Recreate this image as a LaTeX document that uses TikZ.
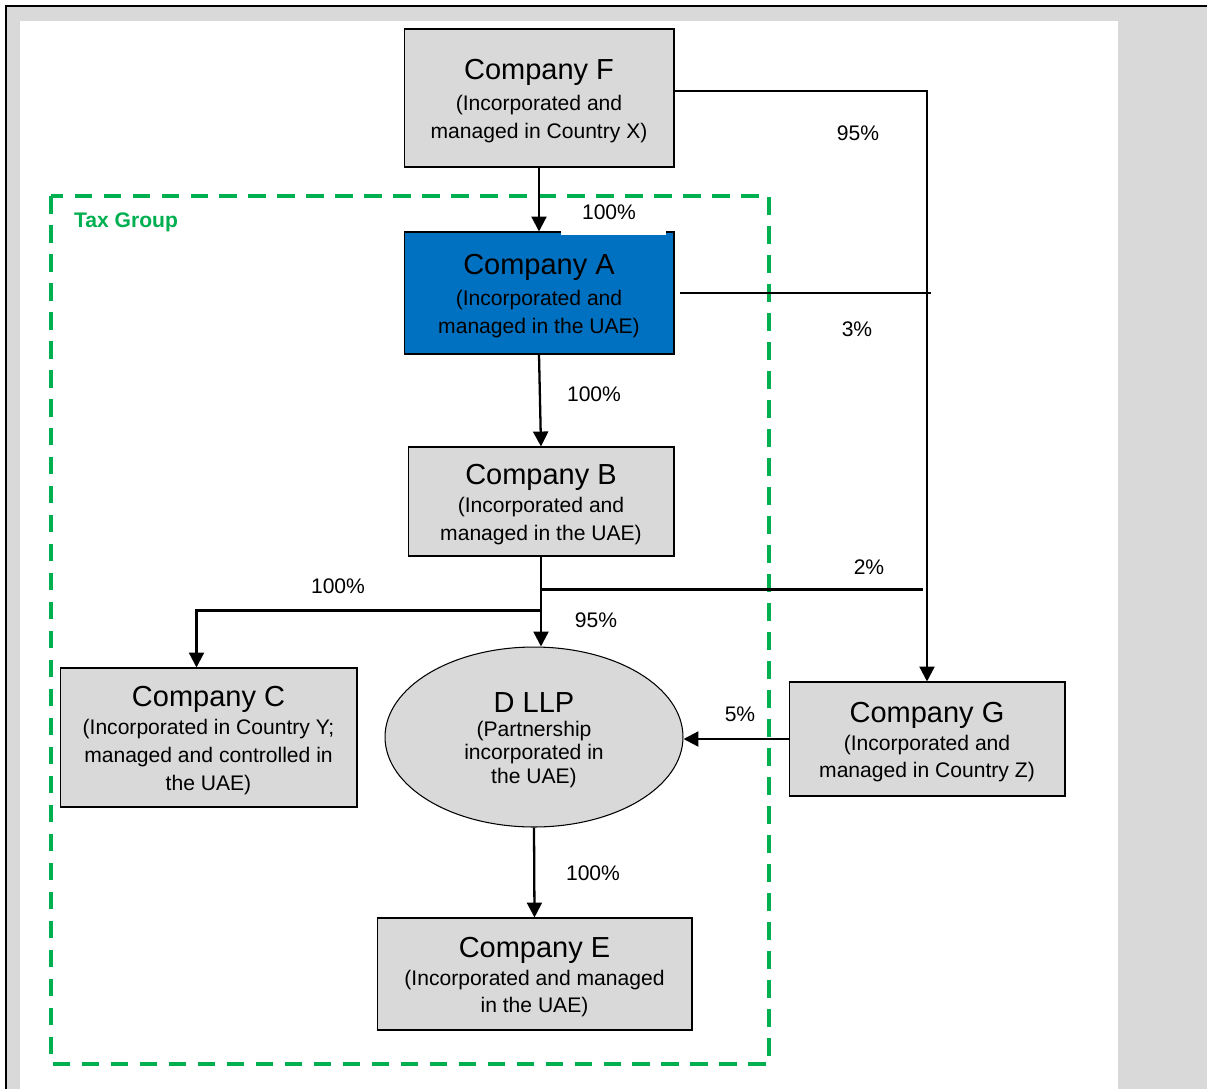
\documentclass[tikz,border=0pt]{standalone}
\usepackage{fontspec}
\setmainfont{Liberation Sans}
\usepackage{tikz}
\usetikzlibrary{
  arrows.meta,
  shapes.geometric,
  calc}

\definecolor{boxgray}{HTML}{D9D9D9}
\definecolor{uaeblue}{HTML}{0070C0}
\definecolor{taxgreen}{HTML}{00B050}

\tikzset{
  entity/.style={draw=black, line width=0.6pt, fill=boxgray, inner sep=0pt,
    align=center, font=\fontsize{12}{15.9}\selectfont},
  link/.style={line width=1.3pt},
  own/.style={link, -{Triangle[length=8.5pt,width=8.5pt]}},
  pct/.style={inner sep=0pt, font=\fontsize{12}{14}\selectfont}
}
\newcommand{\cotitle}[2][0pt]{{\fontsize{16.5}{18}\selectfont\rule{0pt}{15pt}#2}\\[#1]}

\begin{document}
\begin{tikzpicture}[x=0.02cm, y=-0.02cm]
\useasboundingbox (0,0) rectangle (1207,1089);

% page
\fill[boxgray] (6,6) rectangle (1207,1089);
\fill[white] (20,20.5) rectangle (1118,1089);
\draw[line width=1.7pt] (6,1089) -- (6,6) -- (1207,6);

% tax group
\draw[
  taxgreen,
  line width=2.1pt,
  dash pattern=on 10pt off 6.5pt]
(51,196) rectangle (769,1064)
;
\node[text=taxgreen, inner sep=0pt, font=\fontsize{12}{14}\selectfont\bfseries]
  (taxlabel) at (126,222.5) {Tax Group};

% companies
\node[entity, minimum width=5.4cm, minimum height=2.76cm] (F) at (539,98)
  {\cotitle[2pt]{Company F}(Incorporated and\\managed in Country X)};
\node[entity, fill=uaeblue, minimum width=5.4cm, minimum height=2.44cm] (A) at (539,293)
  {\cotitle[1.5pt]{Company A}(Incorporated and\\managed in the UAE)};
\node[entity, minimum width=5.32cm, minimum height=2.18cm] (B) at (541,501.5)
  {\cotitle{Company B}(Incorporated and\\managed in the UAE)};
\node[entity, minimum width=5.94cm, minimum height=2.78cm] (C) at (208.5,737.5)
  {\cotitle{Company C}(Incorporated in Country Y;\\managed and controlled in\\the UAE)};
\node[entity, ellipse, minimum width=5.96cm, minimum height=3.6cm,
  font=\fontsize{12}{13.6}\selectfont] (D) at (534,737)
  {\cotitle{D LLP}(Partnership\\incorporated in\\the UAE)};
\node[entity, minimum width=5.52cm, minimum height=2.28cm] (G) at (927,739)
  {\cotitle{Company G}(Incorporated and\\managed in Country Z)};
\node[entity, minimum width=6.3cm, minimum height=2.24cm] (E) at (534.5,974)
  {\cotitle{Company E}(Incorporated and managed\\in the UAE)};

% holdings
\draw[own] (F.south) -- (A.north);
\draw[own] ([yshift=0.14cm]F.east) -| (G.north);
\draw[link] ([xshift=0.1cm]A.east) -- ([xshift=0.08cm]A.east -| G.north);
\draw[own] (A.south) -- (B.north);
\draw[own] (B.south) -- (B.south |- D.north);
\coordinate (splitG) at ([yshift=-0.66cm]B.south);
\coordinate (splitC) at ([yshift=-1.08cm]B.south);
\draw[link] (splitG) -- ([xshift=-0.08cm]splitG -| G.north);
\draw[own] (splitC) -| ([xshift=-0.24cm]C.north);
\draw[own] (G.west) -- (D.east |- G.west);
\draw[own] (D.south) -- (E.north);

% shares
\fill[white] (561,199) rectangle (666,235);
\node[pct] (pFA) at (609,212) {100\%};
\node[pct] (pFG) at (858,133) {95\%};
\node[pct] (pAG) at (857,329) {3\%};
\node[pct] (pAB) at (594,394) {100\%};
\node[pct] (pBG) at (869,567) {2\%};
\node[pct] (pBC) at (338,586) {100\%};
\node[pct] (pBD) at (596,620) {95\%};
\node[pct] (pGD) at (740,714) {5\%};
\node[pct] (pDE) at (593,873) {100\%};
\end{tikzpicture}
\end{document}
